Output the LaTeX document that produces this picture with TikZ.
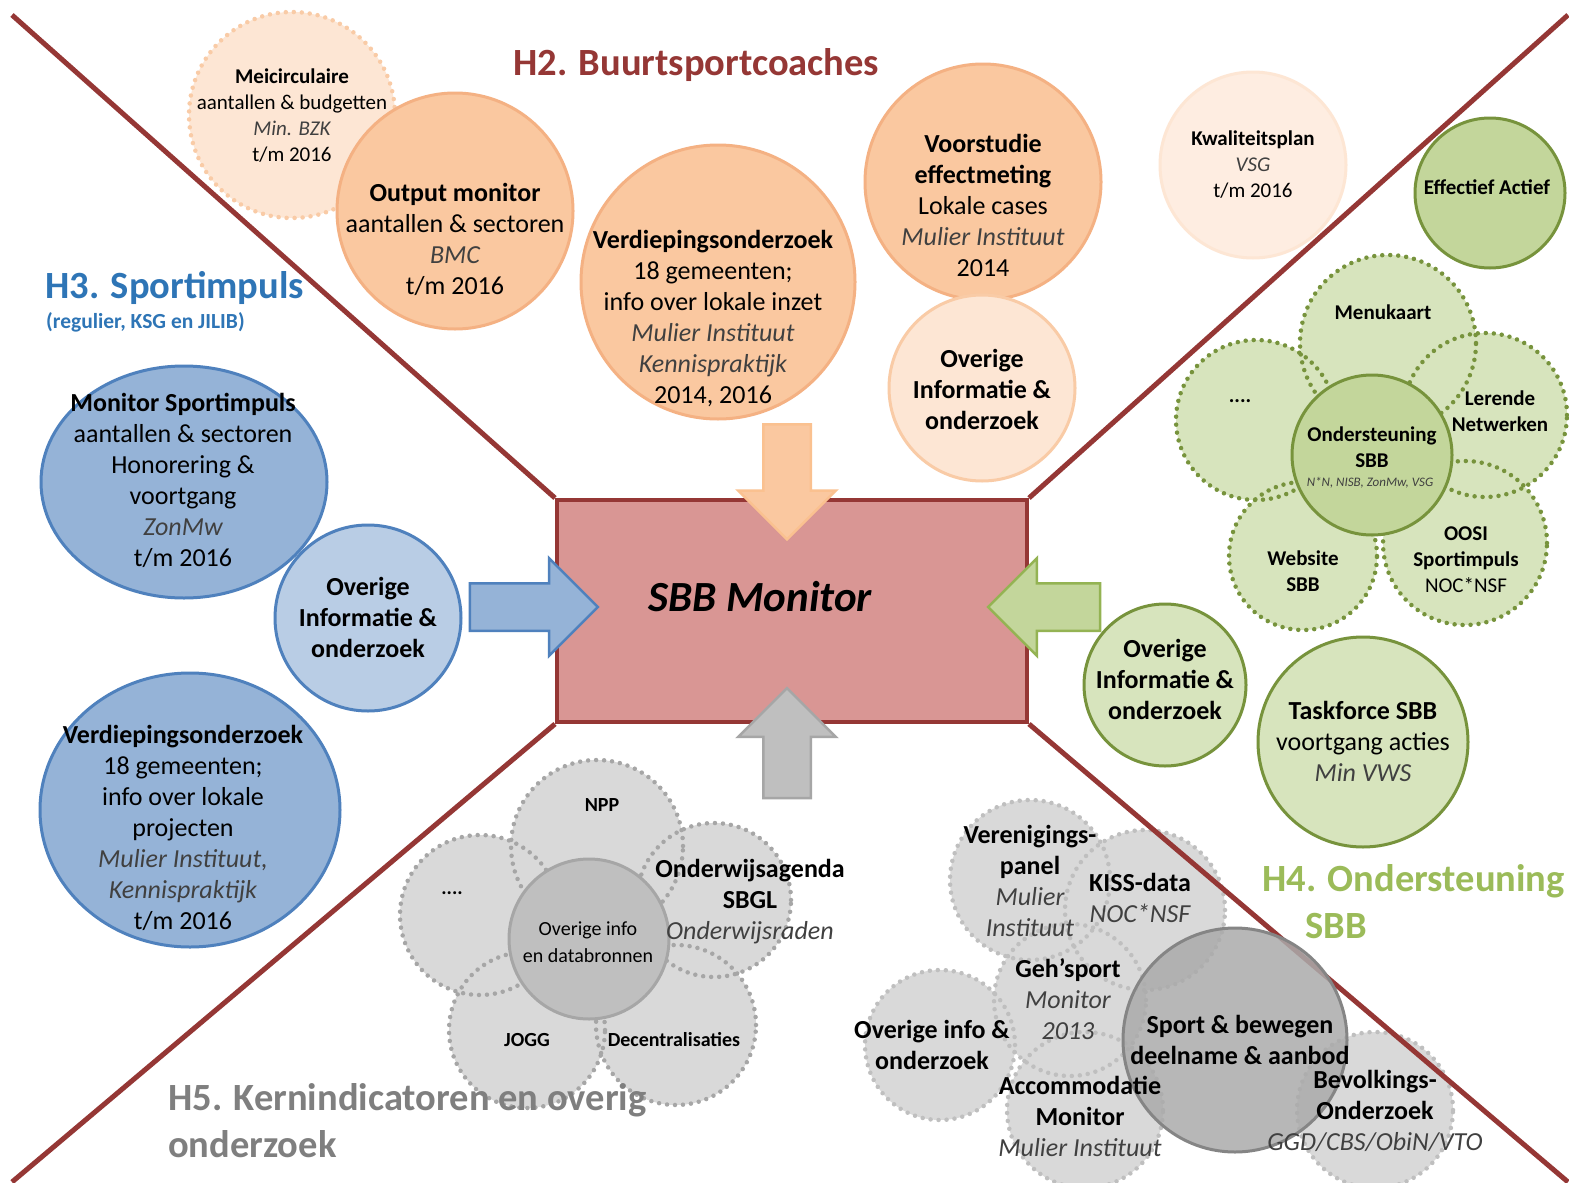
\documentclass[tikz,border=0pt]{standalone}
\usepackage{fontspec}
\setmainfont{Carlito}
\usepackage{tikz}
\usetikzlibrary{shapes.geometric,shapes.arrows}
\definecolor{wine}{HTML}{953735}
\definecolor{rose}{HTML}{D99694}
\definecolor{peach}{HTML}{FAC8A0}
\definecolor{peachline}{HTML}{F4B183}
\definecolor{cream}{HTML}{FDE6D4}
\definecolor{creamline}{HTML}{F9CBA6}
\definecolor{sky}{HTML}{95B3D7}
\definecolor{skylight}{HTML}{B9CDE5}
\definecolor{steel}{HTML}{4F81BD}
\definecolor{titleblue}{HTML}{2E75B6}
\definecolor{olive}{HTML}{77933C}
\definecolor{leaf}{HTML}{C3D69B}
\definecolor{leaflight}{HTML}{D7E4BD}
\definecolor{titlegreen}{HTML}{9BBB59}
\definecolor{ashlight}{HTML}{D9D9D9}
\definecolor{ashmid}{HTML}{BFBFBF}
\definecolor{ashline}{HTML}{A6A6A6}
\definecolor{ashdark}{HTML}{ABABAB}
\definecolor{slate}{HTML}{7F7F7F}
\definecolor{srcgray}{HTML}{404040}
\newcommand{\bron}[1]{{\itshape\color{srcgray}#1}}
\tikzset{
  disc/.style={circle,inner sep=0pt,line width=3pt},
  oval/.style={ellipse,inner sep=0pt,line width=3pt},
  dotline/.style={line width=4.5pt,dash pattern=on 0pt off 8pt,line cap=round},
  txt/.style={align=center,inner sep=0pt,font=\fontsize{26}{31}\selectfont},
  smalltxt/.style={align=center,inner sep=0pt,font=\fontsize{21}{26}\selectfont},
  headtxt/.style={anchor=base west,inner sep=0pt,font=\fontsize{38.5}{46}\selectfont\bfseries},
  blockarrow/.style={single arrow,single arrow head extend=25pt,inner xsep=0pt,inner ysep=22.5pt,line width=2.5pt},
  divider/.style={wine,line width=5pt}
}
\begin{document}
\begin{tikzpicture}[x=1pt,y=-1pt]
\useasboundingbox (0,0) rectangle (1569,1183);
\fill[white] (0,0) rectangle (1569,1183);
% H5 data petals, below the dividers
\foreach \cx/\cy/\rad in {1030/880/80,1145/910/80,1070/1000/76,940/1045/75,1085/1110/78,1375/1110/78}
  \fill[ashlight] (\cx,\cy) circle[radius=\rad pt];
\foreach \cx/\cy/\rad in {1030/880/80,1145/910/80,1070/1000/76,940/1045/75,1085/1110/78,1375/1110/78}
  \draw[dotline,ashmid] (\cx,\cy) circle[radius=\rad pt];

\node[draw=wine,fill=rose,line width=4pt,minimum width=470pt,minimum height=222pt,inner sep=0pt] (sbb) at (792,611) {};
\coordinate (ctl) at (12,15); \coordinate (ctr) at (1568,15);
\coordinate (cbl) at (12,1182); \coordinate (cbr) at (1568,1182);
\draw[divider] (ctl) -- (sbb.north west); \draw[divider] (ctr) -- (sbb.north east);
\draw[divider] (cbl) -- (sbb.south west); \draw[divider] (cbr) -- (sbb.south east);

% H2
\node[disc,dotline,fill=cream,draw=creamline,minimum size=206pt] (meic) at (292,115) {};
\node[disc,fill=peach,draw=peachline,minimum size=236pt] (outmon) at (455,211) {};
\node[disc,fill=peach,draw=peachline,minimum size=274pt] (verdbsc) at (718,282) {};
\node[disc,fill=peach,draw=peachline,minimum size=236pt] (voorst) at (983,182) {};
\node[disc,fill=cream,draw=creamline,minimum size=186pt] (overbsc) at (982,388) {};
\node[disc,fill=cream!70,draw=cream,minimum size=186pt] (kwal) at (1253,165) {};

% H3
\node[oval,fill=sky,draw=steel,minimum width=286pt,minimum height=232pt] (monsp) at (184,482) {};
\node[disc,fill=skylight,draw=steel,minimum size=186pt] (oversp) at (368,618) {};
\node[oval,fill=sky,draw=steel,minimum width=300pt,minimum height=274pt] (verdsp) at (190,810) {};

% H4
\node[disc,fill=leaf,draw=olive,minimum size=150pt] (effact) at (1490,193) {};
\foreach \cx/\cy/\rad in {1388/343/88,1256/420/80,1485/415/82,1303/556/74,1465/543/82}
  \fill[leaflight] (\cx,\cy) circle[radius=\rad pt];
\foreach \cx/\cy/\rad in {1388/343/88,1256/420/80,1485/415/82,1303/556/74,1465/543/82}
  \draw[dotline,olive] (\cx,\cy) circle[radius=\rad pt];
\node[disc,fill=leaf,draw=olive,minimum size=160pt] (onderst) at (1372,455) {};
\node[disc,fill=leaflight,draw=olive,minimum size=162pt] (overond) at (1165,685) {};
\node[disc,fill=leaflight,draw=olive,minimum size=210pt] (task) at (1363,742) {};

% H5
\foreach \cx/\cy/\rad in {597/846/86,480/915/80,714/900/77,527/1030/78,676/1025/80}
  \fill[ashlight] (\cx,\cy) circle[radius=\rad pt];
\foreach \cx/\cy/\rad in {597/846/86,480/915/80,714/900/77,527/1030/78,676/1025/80}
  \draw[dotline,ashline] (\cx,\cy) circle[radius=\rad pt];
\node[disc,fill=ashmid,draw=ashline,minimum size=160pt] (overdata) at (589,939) {};
\node[disc,fill=ashdark,fill opacity=0.85,draw=ashline!80!black,minimum size=224pt] (sport) at (1235,1040) {};

% texts
\node[headtxt,text=wine] (h2) at (513,75) {H2. Buurtsportcoaches};
\node[headtxt,text=titleblue] (h3) at (45,298) {H3. Sportimpuls};
\node[anchor=base west,inner sep=0pt,font=\fontsize{21.5}{25}\selectfont\bfseries,text=titleblue] (h3sub) at (46,328) {(regulier, KSG en JILIB)};
\node[headtxt,text=titlegreen] (h4) at (1262,891) {H4. Ondersteuning};
\node[headtxt,text=titlegreen] (h4b) at (1305,938) {SBB};
\node[headtxt,text=slate] (h5) at (168,1110) {H5. Kernindicatoren en overig};
\node[headtxt,text=slate] (h5b) at (168,1157) {onderzoek};

\node[smalltxt] (meictxt) at (292,116) {\textbf{Meicirculaire}\\aantallen \& budgetten\\\bron{Min. BZK}\\t/m 2016};
\node[txt] (outmontxt) at (455,239) {\textbf{Output monitor}\\aantallen \& sectoren\\\bron{BMC}\\t/m 2016};
\node[txt] (verdbsctxt) at (713,319) {\textbf{Verdiepingsonderzoek}\\18 gemeenten;\\info over lokale inzet\\\bron{Mulier Instituut}\\\bron{Kennispraktijk}\\2014, 2016};
\node[txt] (voorsttxt) at (983,205) {\textbf{Voorstudie}\\\textbf{effectmeting}\\Lokale cases\\\bron{Mulier Instituut}\\2014};
\node[txt,font=\fontsize{26}{31}\selectfont\bfseries] (overbsctxt) at (982,389) {Overige\\Informatie \&\\onderzoek};
\node[smalltxt] (kwaltxt) at (1253,165) {\textbf{Kwaliteitsplan}\\\bron{VSG}\\t/m 2016};

\node[txt] (monsptxt) at (183,480) {\textbf{Monitor Sportimpuls}\\aantallen \& sectoren\\Honorering \&\\voortgang\\\bron{ZonMw}\\t/m 2016};
\node[txt,font=\fontsize{26}{31}\selectfont\bfseries] (oversptxt) at (368,617) {Overige\\Informatie \&\\onderzoek};
\node[txt] (verdsptxt) at (183,828) {\textbf{Verdiepingsonderzoek}\\18 gemeenten;\\info over lokale\\projecten\\\bron{Mulier Instituut,}\\\bron{Kennispraktijk}\\t/m 2016};

\node[smalltxt,font=\fontsize{21}{26}\selectfont\bfseries] (effacttxt) at (1487,187) {Effectief Actief};
\node[smalltxt,font=\fontsize{21}{26}\selectfont\bfseries] (menutxt) at (1383,312) {Menukaart};
\node[smalltxt,font=\fontsize{21}{26}\selectfont\bfseries] (morehtxt) at (1240,401) {....};
\node[smalltxt,font=\fontsize{21}{26}\selectfont\bfseries] (lerendetxt) at (1500,411) {Lerende\\Netwerken};
\node[smalltxt,font=\fontsize{21}{26}\selectfont\bfseries] (webtxt) at (1303,571) {Website\\SBB};
\node[smalltxt] (oositxt) at (1466,560) {\textbf{OOSI}\\\textbf{Sportimpuls}\\NOC*NSF};
\node[smalltxt,font=\fontsize{21}{26}\selectfont\bfseries] (ondersttxt) at (1372,447) {Ondersteuning\\SBB};
\node[inner sep=0pt,font=\fontsize{13}{15}\selectfont\itshape,text=srcgray] (onderstsrc) at (1370,483) {N*N, NISB, ZonMw, VSG};
\node[txt,font=\fontsize{26}{31}\selectfont\bfseries] (overondtxt) at (1165,679) {Overige\\Informatie \&\\onderzoek};
\node[txt] (tasktxt) at (1363,741) {\textbf{Taskforce SBB}\\voortgang acties\\\bron{Min VWS}};

\node[smalltxt,font=\fontsize{20}{25}\selectfont\bfseries] (npptxt) at (602,805) {NPP};
\node[smalltxt,font=\fontsize{20}{25}\selectfont\bfseries] (morebtxt) at (452,893) {....};
\node[txt] (onderwtxt) at (750,902) {\textbf{Onderwijsagenda}\\\textbf{SBGL}\\\bron{Onderwijsraden}};
\node[smalltxt,font=\fontsize{20}{25}\selectfont\bfseries] (joggtxt) at (527,1040) {JOGG};
\node[smalltxt,font=\fontsize{20}{25}\selectfont\bfseries] (decentxt) at (674,1040) {Decentralisaties};
\node[smalltxt,font=\fontsize{20}{27}\selectfont] (overdatatxt) at (588,942) {Overige info\\en databronnen};

\node[txt] (verentxt) at (1030,881) {\textbf{Verenigings-}\\\textbf{panel}\\\bron{Mulier}\\\bron{Instituut}};
\node[txt] (kisstxt) at (1140,898) {\textbf{KISS-data}\\\bron{NOC*NSF}};
\node[txt] (gehtxt) at (1068,999) {\textbf{Geh’sport}\\\bron{Monitor}\\\bron{2013}};
\node[txt,font=\fontsize{26}{31}\selectfont\bfseries] (overinfotxt) at (932,1045) {Overige info \&\\onderzoek};
\node[txt] (acctxt) at (1080,1116) {\textbf{Accommodatie}\\\textbf{Monitor}\\\bron{Mulier Instituut}};
\node[txt,font=\fontsize{26}{31}\selectfont\bfseries] (sporttxt) at (1240,1040) {Sport \& bewegen\\deelname \& aanbod};
\node[txt] (bevtxt) at (1375,1111) {\textbf{Bevolkings-}\\\textbf{Onderzoek}\\\bron{GGD/CBS/ObiN/VTO}};

\node[inner sep=0pt,font=\fontsize{43}{50}\selectfont\bfseries\itshape] (sbbtxt) at (760,597) {SBB Monitor};

% arrows into the monitor
\node[blockarrow,fill=peach,draw=peach!90!orange,minimum height=115pt,rotate=-90] (arrbsc) at (787,470) {};
\node[blockarrow,fill=sky,draw=steel,minimum height=128pt] (arrsp) at (522,607) {};
\node[blockarrow,fill=leaf,draw=titlegreen!80!olive,minimum height=112pt,rotate=180] (arrond) at (1056,607) {};
\node[blockarrow,fill=ashmid,draw=ashline,minimum height=110pt,rotate=90] (arrkern) at (787,755) {};
\end{tikzpicture}
\end{document}
